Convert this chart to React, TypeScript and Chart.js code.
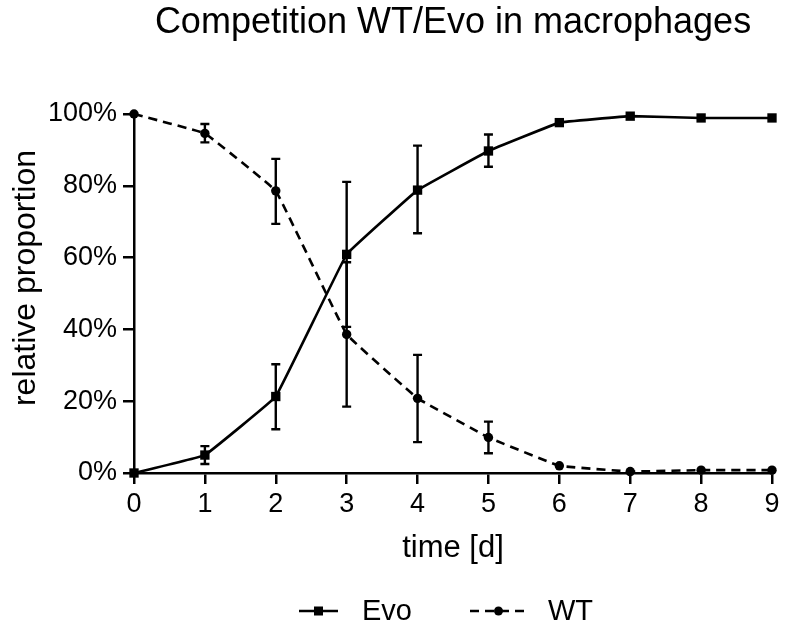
import React, { useEffect, useRef } from "react";
import { Chart, registerables } from "chart.js";

Chart.register(...registerables);

const days = [0, 1, 2, 3, 4, 5, 6, 7, 8, 9];
const evo = [0, 5.0, 21.3, 60.9, 78.8, 89.7, 97.6, 99.4, 98.9, 98.9];
const evoHigh = [null, 7.5, 30.3, 81.1, 91.2, 94.3, null, null, null, null];
const evoLow = [null, 2.5, 12.2, 40.7, 66.8, 85.3, null, null, null, null];
const wt = [100, 94.6, 78.6, 38.6, 20.8, 9.9, 2.0, 0.4, 0.8, 0.8];
const wtHigh = [null, 97.2, 87.5, 58.7, 32.9, 14.3, null, null, null, null];
const wtLow = [null, 92.1, 69.4, 18.5, 8.6, 5.5, null, null, null, null];
const yTicks = [0, 20, 40, 60, 80, 100];

const titleText = "Competition WT/Evo in macrophages";
const xTitle = "time [d]";
const yTitle = "relative proportion";
const legendLabels = ["Evo", "WT"];

const FONT = "'Liberation Sans', Arial, sans-serif";

const errorBarPlugin = {
  id: "errorBars",
  afterDatasetsDraw(chart: any) {
    const ctx = chart.ctx;
    const xs = chart.scales.x;
    const ys = chart.scales.y;
    const sets = [
      { hi: evoHigh, lo: evoLow },
      { hi: wtHigh, lo: wtLow },
    ];
    ctx.save();
    ctx.strokeStyle = "#000";
    ctx.lineWidth = 2.4;
    ctx.setLineDash([]);
    sets.forEach((s) => {
      days.forEach((d, i) => {
        const h = s.hi[i];
        const l = s.lo[i];
        if (h == null || l == null) return;
        const x = xs.getPixelForValue(d);
        const yh = ys.getPixelForValue(h);
        const yl = ys.getPixelForValue(l);
        ctx.beginPath();
        ctx.moveTo(x, yh);
        ctx.lineTo(x, yl);
        ctx.moveTo(x - 4.5, yh);
        ctx.lineTo(x + 4.5, yh);
        ctx.moveTo(x - 4.5, yl);
        ctx.lineTo(x + 4.5, yl);
        ctx.stroke();
      });
    });
    ctx.restore();
  },
};

const decorPlugin = {
  id: "decor",
  afterDraw(chart: any) {
    const ctx = chart.ctx;
    const area = chart.chartArea;
    ctx.save();
    ctx.fillStyle = "#000";
    ctx.strokeStyle = "#000";
    ctx.font = `36px ${FONT}`;
    ctx.textAlign = "center";
    ctx.textBaseline = "alphabetic";
    ctx.fillText(titleText, (area.left + area.right) / 2, 33);

    // y axis title
    ctx.save();
    ctx.translate(26, 278);
    ctx.rotate(-Math.PI / 2);
    ctx.font = `32px ${FONT}`;
    ctx.textAlign = "center";
    ctx.textBaseline = "middle";
    ctx.fillText(yTitle, 0, 0);
    ctx.restore();

    // legend
    const ly = 611;
    ctx.lineWidth = 2.6;
    ctx.setLineDash([]);
    ctx.beginPath();
    ctx.moveTo(299, ly);
    ctx.lineTo(338, ly);
    ctx.stroke();
    ctx.fillRect(318.5 - 4.5, ly - 4.5, 9, 9);
    ctx.font = `29px ${FONT}`;
    ctx.textAlign = "left";
    ctx.textBaseline = "middle";
    ctx.fillText(legendLabels[0], 362, ly + 1);
    ctx.setLineDash([9, 6]);
    ctx.beginPath();
    ctx.moveTo(470, ly);
    ctx.lineTo(527, ly);
    ctx.stroke();
    ctx.setLineDash([]);
    ctx.beginPath();
    ctx.arc(498.5, ly, 4.5, 0, Math.PI * 2);
    ctx.fill();
    ctx.fillText(legendLabels[1], 548, ly + 1);
    ctx.restore();
  },
};

export default function App() {
  const ref = useRef<HTMLCanvasElement>(null);
  useEffect(() => {
    if (!ref.current) return;
    const chart = new Chart(ref.current, {
      type: "line",
      data: {
        datasets: [
          {
            label: legendLabels[0],
            data: days.map((d, i) => ({ x: d, y: evo[i] })),
            borderColor: "#000",
            backgroundColor: "#000",
            borderWidth: 2.6,
            pointStyle: "rect",
            pointRadius: 6.6,
            pointBorderWidth: 0,
            tension: 0.05,
            clip: false,
          },
          {
            label: legendLabels[1],
            data: days.map((d, i) => ({ x: d, y: wt[i] })),
            borderColor: "#000",
            backgroundColor: "#000",
            borderWidth: 2.6,
            borderDash: [9, 6],
            pointStyle: "circle",
            pointRadius: 4.7,
            pointBorderWidth: 0,
            tension: 0.05,
            clip: false,
          },
        ],
      },
      options: {
        animation: false,
        responsive: false,
        devicePixelRatio: 1,
        layout: { padding: { top: 114, right: 13, left: 0, bottom: 0 } },
        plugins: {
          legend: { display: false },
          title: { display: false },
          tooltip: { enabled: false },
        },
        scales: {
          x: {
            type: "linear",
            min: 0,
            max: 9,
            afterFit: (s: any) => {
              s.height = 157;
            },
            afterBuildTicks: (s: any) => {
              s.ticks = days.map((v) => ({ value: v }));
            },
            ticks: {
              color: "#000",
              font: { family: FONT, size: 27 },
              padding: 4,
              maxRotation: 0,
              callback: (v: any) => String(v),
            },
            grid: {
              display: true,
              drawOnChartArea: false,
              drawTicks: true,
              tickLength: 11,
              color: "#000",
              lineWidth: 2.5,
            },
            border: { display: true, color: "#000", width: 2.5 },
            title: {
              display: true,
              text: xTitle,
              color: "#000",
              font: { family: FONT, size: 31 },
              padding: { top: 0, bottom: 63 },
            },
          },
          y: {
            type: "linear",
            min: 0,
            max: 100,
            afterFit: (s: any) => {
              s.width = 134;
            },
            afterBuildTicks: (s: any) => {
              s.ticks = yTicks.map((v) => ({ value: v }));
            },
            ticks: {
              color: "#000",
              font: { family: FONT, size: 27 },
              padding: 6,
              callback: (v: any) => v + "%",
            },
            grid: {
              display: true,
              drawOnChartArea: false,
              drawTicks: true,
              tickLength: 11,
              color: "#000",
              lineWidth: 2.5,
            },
            border: { display: true, color: "#000", width: 2.5 },
          },
        },
      },
      plugins: [errorBarPlugin, decorPlugin],
    });
    return () => chart.destroy();
  }, []);
  return (
    <div style={{ position: "absolute", left: 0, top: 0, width: 785, height: 630, background: "#fff" }}>
      <canvas ref={ref} width={785} height={630} style={{ display: "block", width: 785, height: 630 }} />
    </div>
  );
}
